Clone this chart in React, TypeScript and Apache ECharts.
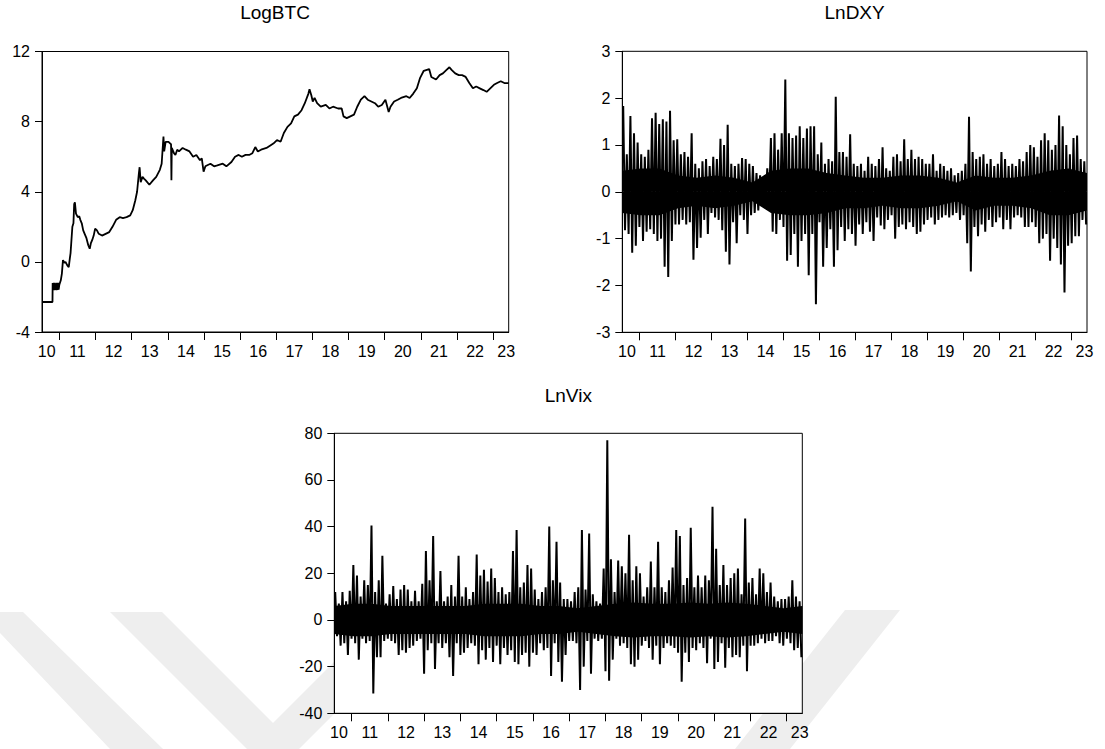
import React, { useEffect, useRef } from "react";
import * as echarts from "echarts";

// ---- time domain (fractional years) ----
const T_START = 2010.52;
const T_END = 2023.43;
const yearTicks = [2011, 2012, 2013, 2014, 2015, 2016, 2017, 2018, 2019, 2020, 2021, 2022, 2023];
const yearLabelPositions = [2010.65, 2011.5, 2012.5, 2013.5, 2014.5, 2015.5, 2016.5, 2017.5, 2018.5, 2019.5, 2020.5, 2021.5, 2022.5, 2023.36];

const titles = ["LogBTC", "LnDXY", "LnVix"];

// ---- LogBTC (date, value) ----
const btcYears = [
  2010.52, 2010.81, 2010.815, 2010.83, 2010.845, 2010.86, 2010.875, 2010.89, 2010.905, 2010.92, 2010.935, 2010.95, 2010.965, 2010.98,
  2011.0, 2011.04, 2011.07, 2011.1, 2011.14, 2011.17, 2011.22, 2011.26, 2011.29, 2011.31, 2011.36, 2011.39, 2011.41, 2011.43,
  2011.46, 2011.51, 2011.55, 2011.58, 2011.62, 2011.66, 2011.7, 2011.75, 2011.8, 2011.84, 2011.87, 2011.91, 2011.95, 2011.99,
  2012.04, 2012.09, 2012.18, 2012.28, 2012.38, 2012.47, 2012.57, 2012.67, 2012.76, 2012.86, 2012.96, 2013.03, 2013.1, 2013.15,
  2013.2, 2013.22, 2013.25, 2013.3, 2013.34, 2013.39, 2013.49, 2013.59, 2013.68, 2013.78, 2013.83, 2013.88, 2013.9, 2013.94,
  2014.02, 2014.07, 2014.09, 2014.1, 2014.11, 2014.17, 2014.21, 2014.26, 2014.31, 2014.41, 2014.5, 2014.6, 2014.7, 2014.79,
  2014.89, 2014.94, 2014.99, 2015.04, 2015.08, 2015.18, 2015.28, 2015.37, 2015.52, 2015.62, 2015.76, 2015.86, 2015.96, 2016.05,
  2016.15, 2016.25, 2016.34, 2016.42, 2016.49, 2016.58, 2016.73, 2016.92, 2017.02, 2017.12, 2017.21, 2017.31, 2017.41, 2017.5,
  2017.6, 2017.7, 2017.79, 2017.89, 2017.92, 2017.97, 2018.01, 2018.06, 2018.13, 2018.23, 2018.37, 2018.47, 2018.57, 2018.71,
  2018.81, 2018.86, 2018.95, 2019.05, 2019.15, 2019.24, 2019.34, 2019.44, 2019.53, 2019.63, 2019.73, 2019.82, 2019.92, 2020.02,
  2020.11, 2020.16, 2020.26, 2020.36, 2020.45, 2020.6, 2020.69, 2020.79, 2020.89, 2020.98, 2021.08, 2021.23, 2021.29, 2021.42,
  2021.52, 2021.61, 2021.71, 2021.79, 2021.85, 2021.95, 2022.05, 2022.14, 2022.24, 2022.34, 2022.44, 2022.53, 2022.63, 2022.73,
  2022.82, 2022.92, 2023.02, 2023.11, 2023.21, 2023.31, 2023.43,
];
const btcValues = [
  -2.29, -2.29, -1.2, -1.62, -1.2, -1.62, -1.2, -1.6, -1.22, -1.62, -1.2, -1.6, -1.2, -1.58,
  -1.3, -1.05, -0.67, 0.1, -0.05, 0.0, -0.2, -0.3, 0.2, 0.5, 2.0, 2.2, 3.3, 3.4,
  2.75, 2.55, 2.6, 2.4, 2.2, 1.8, 1.6, 1.35, 0.95, 0.75, 1.05, 1.25, 1.5, 1.9,
  1.8, 1.6, 1.5, 1.6, 1.7, 2.0, 2.4, 2.55, 2.5, 2.55, 2.65, 2.95, 3.5, 4.0,
  5.05, 5.4, 4.55, 4.85, 4.75, 4.65, 4.4, 4.65, 4.85, 5.25, 5.6, 7.15, 6.3, 6.85,
  6.85, 6.75, 6.7, 4.65, 6.5, 6.2, 6.1, 6.4, 6.3, 6.5, 6.4, 6.3, 6.0, 6.1,
  5.8, 5.9, 5.15, 5.45, 5.5, 5.6, 5.45, 5.5, 5.6, 5.45, 5.7, 6.0, 6.1, 6.0,
  6.1, 6.1, 6.2, 6.55, 6.3, 6.4, 6.5, 6.75, 6.95, 6.85, 7.35, 7.7, 7.9, 8.3,
  8.4, 8.65, 9.05, 9.6, 9.85, 9.5, 9.15, 9.35, 9.05, 8.85, 8.95, 8.75, 8.85, 8.75,
  8.75, 8.3, 8.2, 8.3, 8.4, 8.85, 9.25, 9.45, 9.25, 9.15, 9.05, 8.85, 8.95, 9.25,
  8.55, 8.85, 9.15, 9.25, 9.35, 9.45, 9.35, 9.6, 9.9, 10.5, 10.9, 11.0, 10.55, 10.4,
  10.65, 10.75, 10.95, 11.1, 10.95, 10.75, 10.65, 10.65, 10.55, 10.2, 9.9, 10.0, 9.9, 9.8,
  9.7, 9.9, 10.1, 10.2, 10.3, 10.2, 10.2,
];

// ---- LnDXY: high / low of each 0.1-year slice ----
const dxyUpper = [
  1.83, 0.8, 1.62, 1.25, 1.05, 0.8, 0.75, 0.9, 1.57, 1.69,
  1.45, 1.55, 1.5, 1.73, 1.1, 1.12, 0.8, 0.85, 0.75, 1.25,
  0.6, 0.5, 0.65, 0.7, 0.55, 0.75, 0.7, 1.13, 1.0, 1.43,
  0.6, 0.55, 0.6, 0.72, 0.7, 0.6, 0.55, 0.4, 0.35, 0.3,
  0.5, 1.15, 1.25, 0.9, 1.25, 2.4, 1.25, 1.15, 1.2, 1.4,
  1.15, 1.35, 1.4, 1.4, 0.8, 1.05, 0.6, 0.7, 0.65, 2.03,
  0.85, 0.85, 0.75, 1.23, 0.6, 0.55, 0.6, 0.45, 0.75, 0.6,
  0.55, 0.7, 0.95, 0.5, 0.45, 0.75, 0.8, 0.65, 1.12, 0.7,
  0.9, 0.7, 0.75, 0.7, 0.6, 0.6, 0.8, 0.45, 0.6, 0.55,
  0.45, 0.5, 0.35, 0.4, 0.45, 0.6, 1.6, 0.85, 0.7, 0.75,
  0.8, 0.6, 0.7, 0.55, 0.6, 0.85, 0.7, 0.55, 0.6, 0.55,
  0.7, 0.65, 0.85, 1.0, 0.95, 0.75, 1.1, 1.25, 1.1, 0.9,
  1.0, 1.63, 1.4, 1.0, 0.8, 1.15, 1.2, 0.7, 0.65,
];
const dxyLower = [
  -0.82, -0.9, -1.3, -1.15, -0.75, -1.05, -0.85, -0.8, -0.9, -1.05,
  -1.0, -1.6, -1.82, -1.05, -0.7, -0.7, -0.6, -0.7, -0.65, -1.45,
  -1.2, -0.98, -0.6, -0.9, -0.45, -0.55, -0.6, -0.82, -1.28, -1.55,
  -0.65, -1.1, -0.5, -0.6, -0.9, -0.5, -0.45, -0.4, -0.3, -0.25,
  -0.3, -0.85, -0.9, -0.6, -0.75, -1.47, -1.35, -0.9, -1.6, -1.05,
  -0.9, -1.78, -0.9, -2.4, -0.65, -1.6, -1.2, -0.8, -1.6, -1.25,
  -0.75, -1.05, -0.8, -0.9, -1.15, -0.7, -0.9, -0.65, -0.85, -1.05,
  -0.55, -0.72, -0.8, -0.6, -0.5, -1.0, -0.75, -0.7, -0.8, -0.65,
  -0.75, -0.9, -0.85, -0.7, -0.6, -0.55, -0.7, -0.6, -0.55, -0.5,
  -0.55, -0.5, -0.45, -0.6, -0.5, -1.1, -1.7, -0.75, -0.95, -0.7,
  -0.85, -0.6, -0.75, -0.65, -0.55, -0.8, -0.6, -0.8, -0.55, -0.5,
  -0.55, -0.75, -0.75, -0.65, -0.75, -1.1, -1.0, -0.9, -1.47, -1.0,
  -1.2, -1.55, -2.15, -1.15, -1.1, -0.95, -0.95, -0.6, -0.7,
];
// fully solid centre of LnDXY, per half year
const dxyCoreUpper = [0.45, 0.5, 0.5, 0.35, 0.3, 0.35, 0.3, 0.2, 0.45, 0.5, 0.5, 0.4, 0.35, 0.3, 0.3, 0.35, 0.35, 0.3, 0.2, 0.35, 0.3, 0.3, 0.35, 0.45, 0.5, 0.4];
const dxyCoreLower = [-0.45, -0.5, -0.5, -0.35, -0.3, -0.35, -0.3, -0.2, -0.45, -0.5, -0.5, -0.45, -0.35, -0.35, -0.3, -0.35, -0.35, -0.3, -0.2, -0.4, -0.3, -0.3, -0.35, -0.5, -0.5, -0.4];

// ---- LnVix: high / low of each 0.1-year slice ----
const vixUpper = [
  12, 7, 12, 8, 12.5, 23.5, 19, 10, 17, 15,
  40.5, 12, 17, 27.5, 7, 11, 14.5, 9, 13, 15,
  13, 8, 12.5, 8, 15.5, 29.5, 17, 36, 8, 21,
  8, 10, 15, 10, 27.5, 10, 14, 9, 12, 28,
  19, 21.5, 16.5, 22, 18, 12, 14, 11, 12, 29.5,
  38.5, 14, 16, 23.5, 22, 13, 9, 12, 14, 40,
  17, 33.5, 16, 9, 9, 8, 12, 14, 38.5, 13,
  37, 11, 8, 7, 22, 77, 26, 12, 25.5, 23,
  20, 36.5, 17, 23, 20, 10, 14, 25, 14, 33.5,
  14, 12, 17, 22.5, 38.5, 36, 15, 18, 39.5, 14,
  19, 14, 19, 17, 48.5, 30.5, 15, 23.5, 15, 18,
  20, 22, 11, 43.5, 16, 18, 11, 22, 20, 12,
  16, 10, 8, 9, 9, 10, 17, 10, 8,
];
const vixLower = [
  -7, -11, -10, -15, -8, -10, -17, -8, -10, -9,
  -31.5, -16, -16, -9, -8, -9, -10, -15, -13, -14,
  -12, -11, -9, -8, -23, -13, -10, -21, -10, -12,
  -10, -16, -24, -10, -15, -14, -12, -10, -11, -19,
  -13, -17, -12, -18, -11, -19, -12, -15, -13, -18,
  -19, -15, -14, -20, -14, -15, -10, -13, -12, -24,
  -10, -18, -26.5, -15, -9, -9, -10, -30, -20, -9,
  -23, -8, -9, -8, -22, -26, -17, -8, -11, -10,
  -12, -19, -20, -17, -11, -9, -12, -17, -11, -19,
  -12, -10, -11, -12, -14, -26.5, -14, -18, -12, -13,
  -10, -12, -18.5, -8, -21, -18, -10, -20.5, -12, -16,
  -15, -16, -11, -22, -11, -11, -10, -8, -10, -9,
  -9, -7, -10, -11, -8, -10, -13, -12, -16,
];
// fully solid centre of LnVix, per half year
const vixCoreUpper = [6, 7, 7, 6, 6, 6, 6, 6, 7, 7, 7, 6, 6, 5, 6, 7, 7.5, 7, 7, 7.5, 7, 7.5, 7, 6, 5, 6];
const vixCoreLower = [-6, -7, -7, -6, -6, -6, -6, -6, -7, -7, -7, -6, -6, -5, -6, -7, -7.5, -7, -7, -7.5, -7, -7.5, -7, -6, -5, -6];

// alternate each slice's high and low along the time axis
function highLowTrace(upper: number[], lower: number[]) {
  const n = upper.length;
  const step = (T_END - T_START) / n;
  const out: number[][] = [];
  for (let k = 0; k < n; k++) {
    out.push([T_START + (k + 0.25) * step, upper[k]]);
    out.push([T_START + (k + 0.75) * step, lower[k]]);
  }
  return out;
}
// evenly spread values over the whole time span
function spread(values: number[]) {
  const n = values.length;
  return values.map((v, k) => [T_START + (k * (T_END - T_START)) / (n - 1), v]);
}

const FONT = 'Arial, "Liberation Sans", Helvetica, sans-serif';

export default function App() {
  const ref = useRef<HTMLDivElement>(null);

  useEffect(() => {
    if (!ref.current) return;
    const chart = echarts.init(ref.current, undefined, { renderer: "svg" });

    const gridBoxes = [
      { left: 42, top: 51.5, width: 466.7, height: 280.5 },
      { left: 622.3, top: 51.3, width: 464.7, height: 281 },
      { left: 334.3, top: 433.3, width: 468, height: 280 },
    ];
    const yRanges = [
      { min: -4, max: 12, interval: 4 },
      { min: -3, max: 3, interval: 1 },
      { min: -40, max: 80, interval: 20 },
    ];
    const titlePos = [
      { left: 275, top: 3 },
      { left: 854.6, top: 3 },
      { left: 568.3, top: 385.5 },
    ];

    const labelStyle = { color: "#000", fontSize: 16, fontFamily: FONT };
    const stripe = (pts: number[][]) => ({
      type: "polygon",
      z: -10,
      silent: true,
      shape: { points: pts },
      style: { fill: "#eeeeee" },
    });
    const lineSeries = (idx: number, data: number[][], width: number) => ({
      type: "line",
      xAxisIndex: idx,
      yAxisIndex: idx,
      data,
      showSymbol: false,
      symbol: "none",
      silent: true,
      lineStyle: { color: "#000", width },
    });
    const coreSeries = (idx: number, data: number[][]) => ({
      type: "line",
      xAxisIndex: idx,
      yAxisIndex: idx,
      data,
      showSymbol: false,
      symbol: "none",
      silent: true,
      lineStyle: { width: 0 },
      areaStyle: { color: "#000", opacity: 1, origin: 0 },
    });

    const option: any = {
      animation: false,
      backgroundColor: "#fff",
      title: titles.map((t, i) => ({
        text: t,
        left: titlePos[i].left,
        top: titlePos[i].top,
        textAlign: "center",
        padding: 0,
        textStyle: { color: "#000", fontSize: 19, fontWeight: "normal", fontFamily: FONT },
      })),
      graphic: [
        stripe([[-20, 612], [23, 612], [163, 749], [110, 749]]),
        stripe([[110, 612], [162, 612], [299, 749], [247, 749]]),
        stripe([[247, 749], [299, 749], [420, 628], [368, 628]]),
        stripe([[845, 610], [900, 610], [790, 749], [735, 749]]),
      ],
      grid: gridBoxes.map((g) => ({
        ...g,
        show: true,
        backgroundColor: "#fff",
        borderColor: "#000",
        borderWidth: 1,
        containLabel: false,
      })),
      xAxis: gridBoxes.map((_, i) => ({
        type: "value",
        gridIndex: i,
        min: T_START,
        max: T_END,
        splitLine: { show: false },
        axisLine: { show: true, onZero: false, lineStyle: { color: "#000", width: 1 } },
        axisTick: {
          show: true,
          inside: false,
          length: 8,
          customValues: yearTicks,
          lineStyle: { color: "#000", width: 1 },
        },
        axisLabel: {
          show: true,
          customValues: yearLabelPositions,
          margin: 11,
          formatter: (v: number) => String(Math.floor(v) % 100).padStart(2, "0"),
          ...labelStyle,
        },
      })),
      yAxis: gridBoxes.map((_, i) => ({
        type: "value",
        gridIndex: i,
        min: yRanges[i].min,
        max: yRanges[i].max,
        interval: yRanges[i].interval,
        splitLine: { show: false },
        axisLine: { show: true, onZero: false, lineStyle: { color: "#000", width: 1 } },
        axisTick: { show: true, inside: false, length: 7, lineStyle: { color: "#000", width: 1 } },
        axisLabel: { show: true, margin: 12, ...labelStyle },
      })),
      series: [
        lineSeries(0, btcYears.map((t, i) => [t, btcValues[i]]), 1.8),
        coreSeries(1, spread(dxyCoreUpper)),
        coreSeries(1, spread(dxyCoreLower)),
        lineSeries(1, highLowTrace(dxyUpper, dxyLower), 2),
        coreSeries(2, spread(vixCoreUpper)),
        coreSeries(2, spread(vixCoreLower)),
        lineSeries(2, highLowTrace(vixUpper, vixLower), 2),
      ],
    };

    chart.setOption(option);
    return () => chart.dispose();
  }, []);

  return (
    <div
      ref={ref}
      style={{ position: "fixed", left: 0, top: 0, width: 1105, height: 749, background: "#fff" }}
    />
  );
}
